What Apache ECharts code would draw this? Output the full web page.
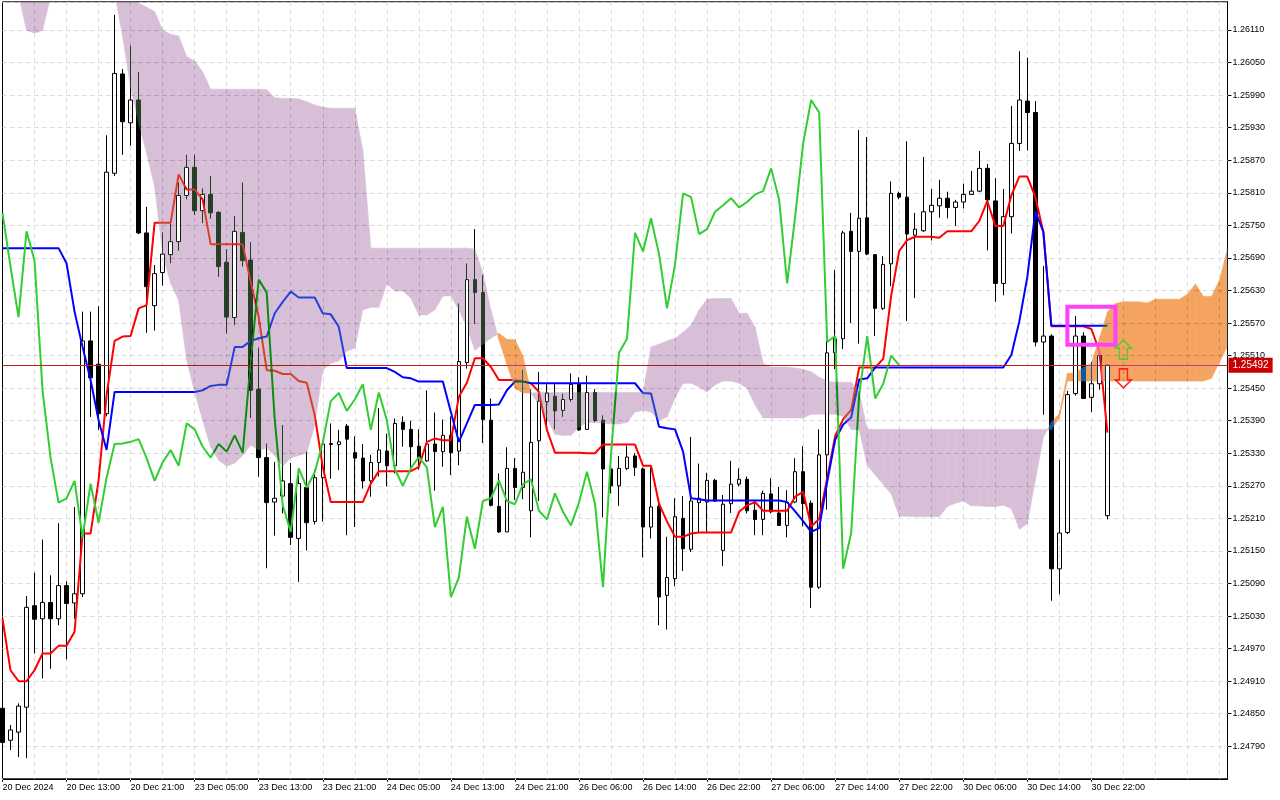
<!DOCTYPE html>
<html><head><meta charset="utf-8">
<script src="https://cdn.jsdelivr.net/npm/echarts@6.0.0/dist/echarts.min.js"></script>
<style>
html,body{margin:0;padding:0;background:#fff;}
#wrap{position:relative;width:1280px;height:800px;background:#fff;}
.layer{position:absolute;left:0;top:0;width:1280px;height:800px;}
#l2{mix-blend-mode:difference;}
</style>
</head><body><div id="wrap"><div id="l1" class="layer"></div><div id="l2" class="layer"></div><div id="l3" class="layer"></div></div>
<script>
// ---- time axis: hourly sessions (day, first hour, last hour) ----
const sessions = [['20 Dec',5,23],['23 Dec',0,23],['24 Dec',0,23],['26 Dec',1,23],['27 Dec',0,23],['30 Dec',0,23],['31 Dec',0,15]];
const tickLabels = ['20 Dec 2024','20 Dec 13:00','20 Dec 21:00','23 Dec 05:00','23 Dec 13:00','23 Dec 21:00','24 Dec 05:00','24 Dec 13:00','24 Dec 21:00','26 Dec 06:00','26 Dec 14:00','26 Dec 22:00','27 Dec 06:00','27 Dec 14:00','27 Dec 22:00','30 Dec 06:00','30 Dec 14:00','30 Dec 22:00'];
const yTickStart = 1.24730, yTickStep = 0.0006, yMax = 1.26162;

const open = [1.24860,1.24801,1.24816,1.24862,1.25049,1.25025,1.25055,1.25025,1.25086,1.25054,
1.25071,1.25537,1.25494,1.25403,1.25846,1.26029,1.25939,1.25981,1.25736,1.25602,
1.25663,1.25696,1.25720,1.25805,1.25857,1.25777,1.25807,1.25774,1.25682,1.25580,
1.25737,1.25686,1.25448,1.25322,1.25240,1.25251,1.25274,1.25173,1.25267,1.25204,
1.25285,1.25346,1.25346,1.25380,1.25331,1.25321,1.25279,1.25313,1.25334,1.25307,
1.25387,1.25374,1.25343,1.25316,1.25347,1.25333,1.25363,1.25334,1.25497,1.25650,
1.25626,1.25391,1.25232,1.25185,1.25302,1.25267,1.25224,1.25353,1.25425,1.25435,
1.25409,1.25429,1.25457,1.25374,1.25442,1.25391,1.25301,1.25270,1.25302,1.25325,
1.25301,1.25194,1.25232,1.25068,1.25099,1.25210,1.25153,1.25239,1.25240,1.25280,
1.25151,1.25237,1.25273,1.25282,1.25225,1.25208,1.25255,1.25220,1.25197,1.25240,
1.25296,1.25238,1.25083,1.25327,1.25515,1.25541,1.25739,1.25702,1.25764,1.25696,
1.25597,1.25679,1.25809,1.25802,1.25732,1.25740,1.25775,1.25786,1.25800,1.25783,
1.25793,1.25807,1.25813,1.25855,1.25795,1.25643,1.25766,1.25901,1.25979,1.25958,
1.25535,1.25546,1.25117,1.25184,1.25440,1.25546,1.25433,1.25458,1.25215];
const high = [1.24875,1.24829,1.24869,1.25067,1.25110,1.25171,1.25105,1.25201,1.25094,1.25231,
1.25591,1.25591,1.25601,1.25916,1.26138,1.26038,1.26081,1.26033,1.25784,1.25677,
1.25737,1.25757,1.25829,1.25880,1.25880,1.25818,1.25841,1.25776,1.25706,1.25767,
1.25829,1.25719,1.25523,1.25348,1.25314,1.25382,1.25312,1.25302,1.25333,1.25300,
1.25351,1.25385,1.25373,1.25384,1.25361,1.25347,1.25327,1.25413,1.25366,1.25394,
1.25398,1.25390,1.25374,1.25446,1.25405,1.25392,1.25398,1.25606,1.25680,1.25743,
1.25658,1.25431,1.25293,1.25341,1.25321,1.25484,1.25448,1.25480,1.25459,1.25459,
1.25440,1.25477,1.25470,1.25473,1.25448,1.25400,1.25311,1.25325,1.25344,1.25330,
1.25304,1.25304,1.25240,1.25176,1.25247,1.25251,1.25360,1.25311,1.25294,1.25283,
1.25253,1.25316,1.25302,1.25287,1.25244,1.25261,1.25284,1.25268,1.25262,1.25321,
1.25343,1.25243,1.25374,1.25538,1.25668,1.25740,1.25773,1.25926,1.25913,1.25697,
1.25693,1.25831,1.25812,1.25905,1.25773,1.25876,1.25817,1.25834,1.25812,1.25797,
1.25827,1.25850,1.25887,1.25863,1.25837,1.25817,1.25970,1.26071,1.26059,1.25979,
1.25675,1.25549,1.25318,1.25445,1.25583,1.25553,1.25498,1.25513,1.25494];
const low = [1.24779,1.24783,1.24770,1.24768,1.24961,1.24915,1.24933,1.25013,1.24950,1.25025,
1.25065,1.25397,1.25373,1.25398,1.25841,1.25880,1.25897,1.25734,1.25552,1.25556,
1.25639,1.25680,1.25703,1.25798,1.25769,1.25754,1.25762,1.25655,1.25551,1.25566,
1.25674,1.25395,1.25287,1.25118,1.25178,1.25219,1.25161,1.25093,1.25151,1.25199,
1.25204,1.25283,1.25299,1.25179,1.25194,1.25265,1.25250,1.25287,1.25269,1.25293,
1.25342,1.25302,1.25300,1.25314,1.25261,1.25305,1.25290,1.25308,1.25486,1.25569,
1.25349,1.25232,1.25183,1.25185,1.25244,1.25245,1.25175,1.25242,1.25371,1.25374,
1.25397,1.25425,1.25371,1.25373,1.25387,1.25212,1.25256,1.25233,1.25299,1.25288,
1.25138,1.25173,1.25013,1.25005,1.25085,1.25113,1.25148,1.25185,1.25185,1.25240,
1.25122,1.25220,1.25269,1.25219,1.25179,1.25179,1.25219,1.25196,1.25175,1.25238,
1.25195,1.25045,1.25080,1.25226,1.25485,1.25522,1.25570,1.25532,1.25695,1.25546,
1.25594,1.25638,1.25798,1.25574,1.25616,1.25738,1.25722,1.25764,1.25763,1.25749,
1.25781,1.25806,1.25811,1.25704,1.25609,1.25621,1.25735,1.25887,1.25888,1.25527,
1.25401,1.25058,1.25070,1.25181,1.25436,1.25430,1.25406,1.25447,1.25208];
const close = [1.24797,1.24820,1.24864,1.25046,1.25024,1.25055,1.25025,1.25086,1.25053,1.25071,
1.25537,1.25469,1.25403,1.25848,1.26030,1.25941,1.25981,1.25736,1.25637,1.25661,
1.25697,1.25720,1.25805,1.25857,1.25777,1.25807,1.25773,1.25674,1.25581,1.25739,
1.25685,1.25446,1.25322,1.25239,1.25247,1.25279,1.25175,1.25274,1.25202,1.25285,
1.25347,1.25348,1.25351,1.25356,1.25321,1.25279,1.25313,1.25336,1.25307,1.25385,
1.25374,1.25342,1.25322,1.25347,1.25333,1.25363,1.25331,1.25499,1.25650,1.25626,
1.25392,1.25234,1.25185,1.25302,1.25267,1.25295,1.25350,1.25426,1.25441,1.25408,
1.25429,1.25457,1.25373,1.25442,1.25391,1.25301,1.25270,1.25302,1.25323,1.25304,
1.25194,1.25231,1.25065,1.25101,1.25213,1.25154,1.25242,1.25247,1.25280,1.25242,
1.25236,1.25273,1.25282,1.25224,1.25208,1.25256,1.25222,1.25197,1.25239,1.25296,
1.25237,1.25083,1.25327,1.25515,1.25541,1.25736,1.25702,1.25763,1.25697,1.25597,
1.25678,1.25809,1.25802,1.25734,1.25743,1.25775,1.25787,1.25800,1.25783,1.25793,
1.25807,1.25813,1.25855,1.25797,1.25643,1.25766,1.25901,1.25981,1.25958,1.25535,
1.25546,1.25117,1.25183,1.25438,1.25546,1.25431,1.25458,1.25510,1.25492];

// Ichimoku lines
const tenkan = [1.25025,1.24930,1.24910,1.24910,1.24930,1.24961,1.24961,1.24975,1.24975,1.25001,
1.25182,1.25182,1.25280,1.25437,1.25537,1.25545,1.25546,1.25597,1.25603,1.25755,
1.25755,1.25755,1.25844,1.25816,1.25816,1.25798,1.25715,1.25715,1.25715,1.25715,
1.25715,1.25646,1.25581,1.25483,1.25482,1.25476,1.25476,1.25463,1.25460,1.25400,
1.25305,1.25240,1.25240,1.25240,1.25240,1.25240,1.25274,1.25297,1.25297,1.25297,
1.25297,1.25297,1.25305,1.25351,1.25357,1.25354,1.25354,1.25434,1.25460,1.25505,
1.25505,1.25489,1.25465,1.25465,1.25465,1.25463,1.25459,1.25443,1.25373,1.25331,
1.25331,1.25331,1.25331,1.25330,1.25330,1.25346,1.25346,1.25346,1.25346,1.25346,
1.25307,1.25307,1.25237,1.25204,1.25176,1.25176,1.25182,1.25184,1.25184,1.25184,
1.25184,1.25184,1.25222,1.25234,1.25240,1.25224,1.25224,1.25224,1.25224,1.25250,
1.25259,1.25195,1.25209,1.25284,1.25362,1.25393,1.25410,1.25488,1.25488,1.25488,
1.25504,1.25621,1.25703,1.25723,1.25729,1.25729,1.25729,1.25727,1.25739,1.25739,
1.25739,1.25739,1.25758,1.25795,1.25749,1.25749,1.25805,1.25840,1.25840,1.25802,
1.25738,1.25564,1.25564,1.25564,1.25564,1.25564,1.25559,1.25518,1.25368];
const kijun = [1.25708,1.25708,1.25708,1.25708,1.25708,1.25708,1.25708,1.25708,1.25680,1.25591,
1.25526,1.25465,1.25391,1.25336,1.25443,1.25443,1.25443,1.25443,1.25443,1.25443,
1.25443,1.25443,1.25443,1.25443,1.25443,1.25446,1.25454,1.25456,1.25456,1.25526,
1.25526,1.25537,1.25542,1.25545,1.25588,1.25609,1.25628,1.25617,1.25617,1.25617,
1.25588,1.25586,1.25563,1.25487,1.25487,1.25487,1.25487,1.25487,1.25487,1.25480,
1.25470,1.25468,1.25462,1.25462,1.25462,1.25462,1.25406,1.25351,1.25385,1.25419,
1.25419,1.25419,1.25420,1.25446,1.25462,1.25462,1.25459,1.25459,1.25459,1.25459,
1.25459,1.25459,1.25459,1.25459,1.25459,1.25459,1.25459,1.25459,1.25459,1.25459,
1.25441,1.25440,1.25379,1.25376,1.25374,1.25333,1.25247,1.25245,1.25243,1.25243,
1.25243,1.25243,1.25243,1.25243,1.25243,1.25243,1.25243,1.25243,1.25240,1.25223,
1.25205,1.25185,1.25192,1.25277,1.25355,1.25383,1.25396,1.25466,1.25468,1.25488,
1.25488,1.25488,1.25488,1.25488,1.25488,1.25488,1.25488,1.25488,1.25488,1.25488,
1.25488,1.25488,1.25488,1.25488,1.25488,1.25488,1.25511,1.25573,1.25655,1.25776,
1.25738,1.25565,1.25565,1.25565,1.25565,1.25565,1.25565,1.25565,1.25565];
const spanA = [1.26200,1.26200,1.26176,1.26110,1.26104,1.26109,1.26172,1.26200,1.26200,1.26200,
1.26200,1.26200,1.26200,1.26200,1.26180,1.26098,1.26005,1.25938,1.25883,1.25821,
1.25698,1.25643,1.25612,1.25502,1.25443,1.25391,1.25341,1.25317,1.25306,1.25312,
1.25326,1.25345,1.25336,1.25339,1.25326,1.25306,1.25321,1.25326,1.25330,1.25382,
1.25483,1.25496,1.25500,1.25518,1.25524,1.25594,1.25599,1.25599,1.25642,1.25629,
1.25629,1.25616,1.25585,1.25585,1.25594,1.25620,1.25620,1.25594,1.25562,1.25520,
1.25531,1.25542,1.25551,1.25540,1.25539,1.25509,1.25442,1.25419,1.25395,1.25365,
1.25363,1.25363,1.25378,1.25386,1.25387,1.25386,1.25384,1.25384,1.25387,1.25406,
1.25409,1.25406,1.25391,1.25397,1.25432,1.25459,1.25459,1.25452,1.25443,1.25456,
1.25463,1.25463,1.25459,1.25450,1.25419,1.25395,1.25395,1.25395,1.25395,1.25395,
1.25395,1.25402,1.25402,1.25402,1.25402,1.25398,1.25374,1.25373,1.25308,1.25290,
1.25273,1.25255,1.25214,1.25214,1.25213,1.25213,1.25213,1.25213,1.25232,1.25238,
1.25242,1.25233,1.25233,1.25232,1.25232,1.25234,1.25228,1.25190,1.25200,1.25280,
1.25359,1.25387,1.25403,1.25477,1.25478,1.25488,1.25496,1.25542,1.25590,1.25606,
1.25609,1.25609,1.25609,1.25607,1.25614,1.25614,1.25614,1.25614,1.25623,1.25642,
1.25619,1.25619,1.25649,1.25707];
const spanB = [1.26250,1.26250,1.26250,1.26250,1.26250,1.26250,1.26250,1.26250,1.26250,1.26250,
1.26250,1.26250,1.26250,1.26250,1.26250,1.26202,1.26171,1.26160,1.26152,1.26144,
1.26110,1.26102,1.26099,1.26061,1.26053,1.26033,1.26001,1.26001,1.26001,1.26001,
1.26001,1.26001,1.26001,1.26000,1.25985,1.25984,1.25984,1.25983,1.25978,1.25972,
1.25968,1.25966,1.25966,1.25966,1.25966,1.25889,1.25708,1.25708,1.25708,1.25708,
1.25708,1.25708,1.25708,1.25708,1.25708,1.25708,1.25708,1.25708,1.25708,1.25706,
1.25662,1.25594,1.25539,1.25494,1.25450,1.25441,1.25441,1.25442,1.25442,1.25442,
1.25442,1.25442,1.25442,1.25442,1.25442,1.25442,1.25442,1.25442,1.25442,1.25442,
1.25442,1.25526,1.25531,1.25537,1.25542,1.25553,1.25566,1.25594,1.25614,1.25615,
1.25615,1.25615,1.25588,1.25588,1.25562,1.25496,1.25489,1.25489,1.25489,1.25487,
1.25485,1.25480,1.25470,1.25463,1.25461,1.25461,1.25461,1.25443,1.25374,1.25374,
1.25374,1.25374,1.25374,1.25374,1.25374,1.25374,1.25374,1.25374,1.25374,1.25374,
1.25374,1.25374,1.25374,1.25374,1.25374,1.25374,1.25374,1.25374,1.25374,1.25374,
1.25374,1.25374,1.25395,1.25463,1.25463,1.25463,1.25463,1.25463,1.25463,1.25463,
1.25463,1.25463,1.25463,1.25463,1.25463,1.25463,1.25463,1.25463,1.25463,1.25463,
1.25463,1.25468,1.25498,1.25527];
// annotations (data coordinates)
const boxMark = {from: 133, to: 139, top: 1.25600, bottom: 1.25530};
const upArrow = {at: 140, price: 1.25521};
const downArrow = {at: 140, price: 1.25468};
const chikouShift = 26;

// ---------------------------------------------------------------
const categories = [];
sessions.forEach(([d, h0, h1]) => { for (let h = h0; h <= h1; h++) categories.push(d + ' ' + String(h).padStart(2, '0') + ':00'); });
const ohlc = open.map((o, i) => [o, close[i], low[i], high[i]]);
const chikou = close.slice(chikouShift);
const currentPrice = close[close.length - 1];
const FONT = '"Liberation Sans", Arial, sans-serif';
const ORANGE = '#F4A460', THISTLE = '#D8BFD8';
// layer 2 is blended with "difference" (MT5-like XOR drawing): colours there are inverted
const INV = {black: '#ffffff', red: '#00ffff', blue: '#ffff00', green: '#cd32cd', grid: '#262626', price: '#37e1e1'};
const GRID = {left: 2.5, right: 52.5, top: 1.8, bottom: 21.2, containLabel: false, outerBoundsMode: 'none'};
const labelInterval = (i) => i % 8 === 0 && i / 8 < tickLabels.length;

function axes(o) {
  return {
    xAxis: {
      type: 'category', data: categories, boundaryGap: false,
      axisLine: {show: !!o.line, lineStyle: {color: o.line || '#000', width: 1}},
      axisTick: {show: !!o.labels, interval: labelInterval, length: 3, lineStyle: {color: '#000'}},
      axisLabel: {show: !!o.labels, interval: labelInterval, formatter: (v, i) => tickLabels[i / 8] || '',
        align: 'left', margin: 4, fontSize: 9, color: '#000', fontFamily: FONT},
      splitLine: {show: !!o.split, interval: (i) => i % 4 === 0 && i > 0,
        lineStyle: {type: [4, 4], color: o.split || '#000', width: 1}}
    },
    yAxis: {
      type: 'value', position: 'right', min: yTickStart, max: yMax, interval: yTickStep, scale: true,
      axisLine: {show: !!o.line, lineStyle: {color: o.line || '#000', width: 1}},
      axisTick: {show: !!o.labels, length: 4, inside: false, lineStyle: {color: '#000'}},
      axisLabel: {show: !!o.labels, formatter: (v) => v.toFixed(5), fontSize: 9, color: '#000', fontFamily: FONT,
        margin: 5, showMinLabel: false, showMaxLabel: false},
      splitLine: {show: !!o.split, lineStyle: {type: [4, 4], color: o.split || '#000', width: 1}}
    }
  };
}

function poly(points, color) {
  return {type: 'polygon', shape: {points}, style: {fill: color, stroke: color, lineWidth: 0.6}};
}
const cloudSeries = {
  type: 'custom', name: 'cloud', z: 1, silent: true,
  data: spanA.slice(0, -1).map((a, i) => [i, a]),
  encode: {x: 0, y: 1},
  renderItem: function (params, api) {
    const i = api.value(0);
    const a0 = spanA[i], b0 = spanB[i], a1 = spanA[i + 1], b1 = spanB[i + 1];
    const d0 = a0 - b0, d1 = a1 - b1;
    const pa0 = api.coord([i, a0]), pb0 = api.coord([i, b0]);
    const pa1 = api.coord([i + 1, a1]), pb1 = api.coord([i + 1, b1]);
    const col = d => d >= 0 ? ORANGE : THISTLE;
    const children = [];
    if (d0 * d1 >= 0) {
      children.push(poly([pa0, pa1, pb1, pb0], col(d0 !== 0 ? d0 : d1)));
    } else {
      const t = d0 / (d0 - d1);
      const cx = pa0[0] + t * (pa1[0] - pa0[0]);
      const cy = pa0[1] + t * (pa1[1] - pa0[1]);
      children.push(poly([pa0, [cx, cy], pb0], col(d0)));
      children.push(poly([[cx, cy], pa1, pb1], col(d1)));
    }
    const cs = params.coordSys;
    return {type: 'group', children,
      clipPath: {type: 'rect', shape: {x: cs.x, y: cs.y, width: cs.width, height: cs.height}}};
  }
};

// ---- layer 1: background, cloud, bullish body fill, axis labels ----
const c1 = echarts.init(document.getElementById('l1'), null, {renderer: 'canvas'});
c1.setOption(Object.assign({
  animation: false, backgroundColor: '#ffffff', grid: GRID,
  series: [
    cloudSeries,
    {type: 'candlestick', name: 'bodies', data: ohlc, barWidth: 4, z: 2, silent: true,
     itemStyle: {color: '#ffffff', color0: 'rgba(0,0,0,0)', borderColor: 'rgba(0,0,0,0)', borderColor0: 'rgba(0,0,0,0)', borderWidth: 0}}
  ]
}, axes({labels: true})));

// ---- layer 2 (difference blend): grid, candles, indicator lines, price line ----
const lineS = (name, data, color) => ({type: 'line', name, data, symbol: 'none', showSymbol: false, z: 3, silent: true,
  lineStyle: {color, width: 2}, itemStyle: {color}});
const c2 = echarts.init(document.getElementById('l2'), null, {renderer: 'canvas'});
c2.setOption(Object.assign({
  animation: false, backgroundColor: 'rgba(0,0,0,0)',
  grid: Object.assign({show: true, borderColor: INV.black, borderWidth: 1, backgroundColor: 'rgba(0,0,0,0)'}, GRID),
  series: [
    {type: 'candlestick', name: 'price', data: ohlc, barWidth: 4, z: 2, silent: true,
     itemStyle: {color: 'rgba(0,0,0,0)', color0: INV.black, borderColor: INV.black, borderColor0: INV.black, borderWidth: 1},
     markLine: {silent: true, symbol: ['none', 'none'], precision: 5, animation: false,
       data: [{yAxis: currentPrice}], lineStyle: {color: INV.price, width: 1, type: 'solid'}, label: {show: false}}},
    lineS('Tenkan-sen', tenkan, INV.red),
    lineS('Kijun-sen', kijun, INV.blue),
    lineS('Chikou Span', chikou, INV.green)
  ]
}, axes({line: INV.black, split: INV.grid})));

// ---- layer 3: annotations and price tag ----
const c3 = echarts.init(document.getElementById('l3'), null, {renderer: 'canvas'});
c3.setOption(Object.assign({
  animation: false, backgroundColor: 'rgba(0,0,0,0)', grid: GRID,
  series: [{
    type: 'line', name: 'marks', data: tenkan, symbol: 'none', showSymbol: false, silent: true,
    lineStyle: {color: 'rgba(0,0,0,0)', width: 0},
    markLine: {silent: true, symbol: ['none', 'none'], precision: 5, animation: false,
      data: [{yAxis: currentPrice}], lineStyle: {color: 'rgba(0,0,0,0)', width: 1, type: 'solid'},
      label: {show: true, position: 'end', formatter: () => currentPrice.toFixed(5), backgroundColor: '#c80000',
        color: '#ffffff', padding: [3, 4, 2, 4], fontSize: 10, fontFamily: FONT, distance: 1, opacity: 1}},
    markArea: {silent: true,
      data: [[{xAxis: categories[boxMark.from], yAxis: boxMark.top}, {xAxis: categories[boxMark.to], yAxis: boxMark.bottom}]],
      itemStyle: {color: 'rgba(0,0,0,0)', borderColor: '#ff40ff', borderWidth: 4}},
    markPoint: {silent: true, label: {show: false},
      data: [
        {coord: [categories[upArrow.at], upArrow.price], symbol: 'path://M8,0 L16,8 L12,8 L12,19 L4,19 L4,8 L0,8 Z',
         symbolSize: [16, 19], symbolKeepAspect: false,
         itemStyle: {color: 'rgba(0,0,0,0)', borderColor: '#55cc33', borderWidth: 1.5}},
        {coord: [categories[downArrow.at], downArrow.price], symbol: 'path://M4,0 L12,0 L12,11 L16,11 L8,19 L0,11 L4,11 Z',
         symbolSize: [16, 19], symbolKeepAspect: false,
         itemStyle: {color: 'rgba(0,0,0,0)', borderColor: '#ff2020', borderWidth: 1.5}}
      ]}
  }]
}, axes({})));
</script>
</body></html>
